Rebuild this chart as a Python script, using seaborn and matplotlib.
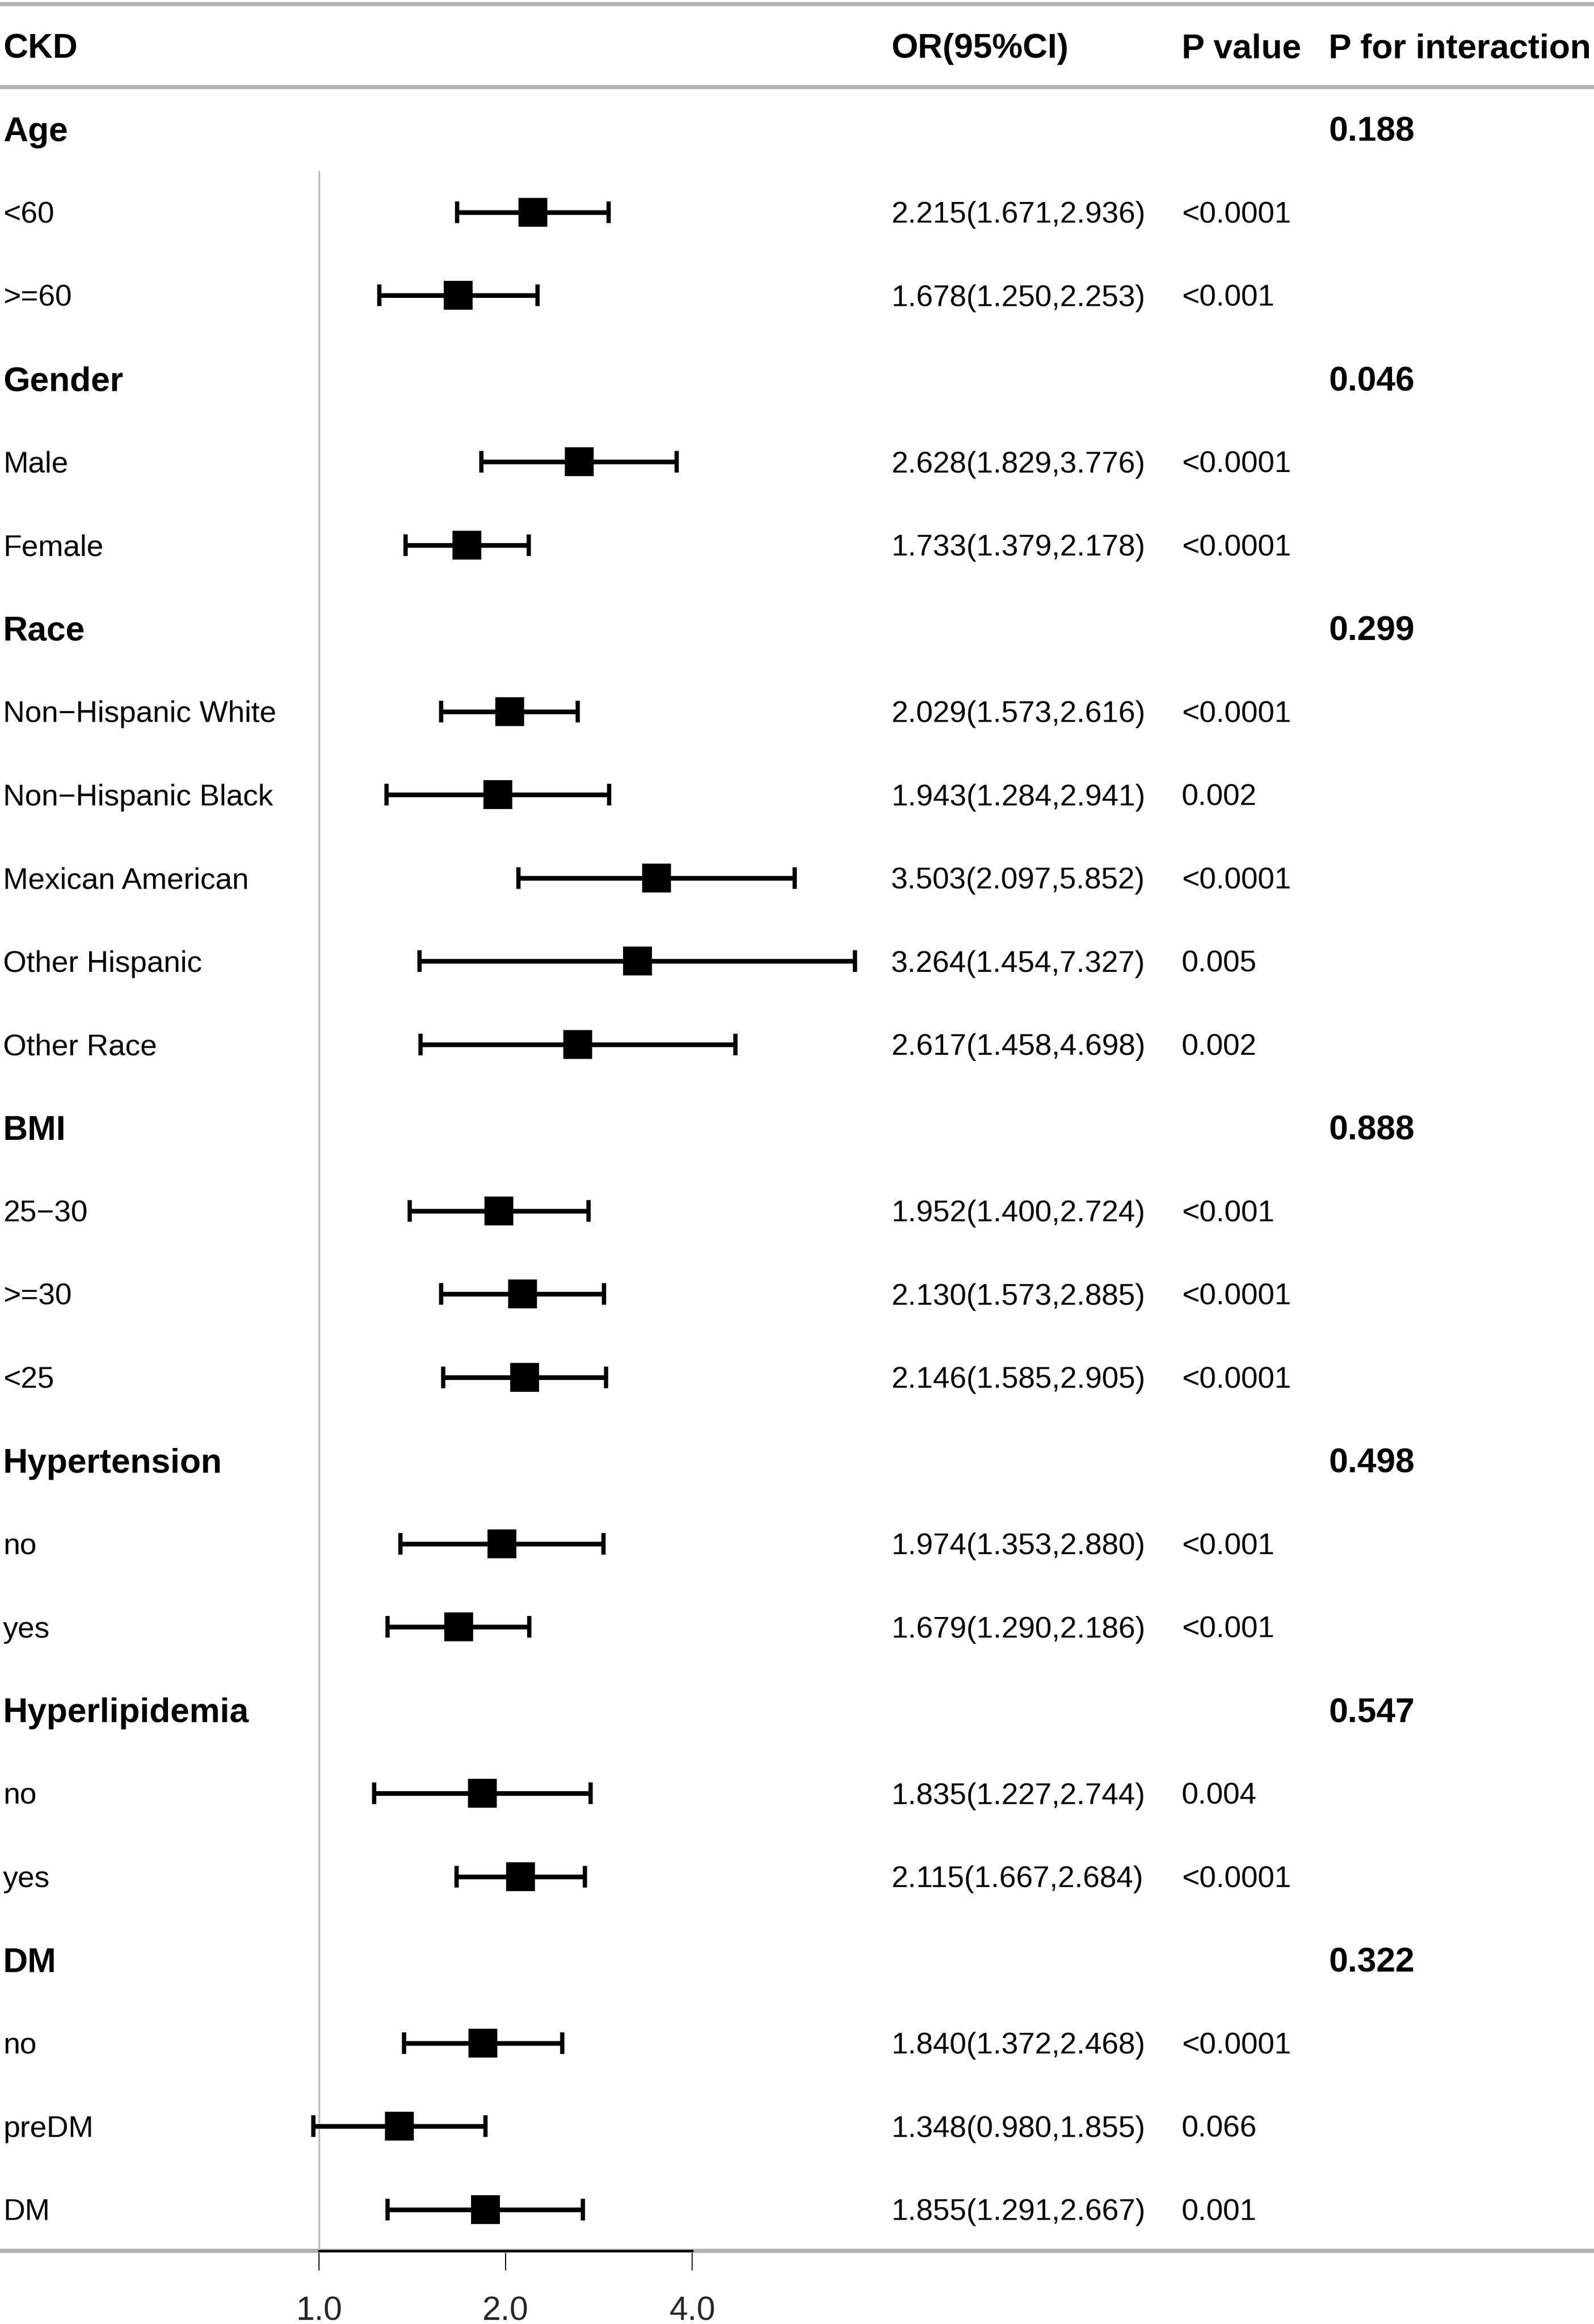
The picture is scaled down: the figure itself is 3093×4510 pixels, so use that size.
import numpy as np
import pandas as pd
import matplotlib
matplotlib.use("Agg")
import matplotlib.pyplot as plt
import matplotlib.transforms as mtransforms
import seaborn as sns

# ---------------- data ----------------
row_labels = ["Age", "<60", ">=60",
              "Gender", "Male", "Female",
              "Race", "Non\u2212Hispanic White", "Non\u2212Hispanic Black",
              "Mexican American", "Other Hispanic", "Other Race",
              "BMI", "25\u221230", ">=30", "<25",
              "Hypertension", "no", "yes",
              "Hyperlipidemia", "no", "yes",
              "DM", "no", "preDM", "DM"]
is_group = [True, False, False,
            True, False, False,
            True, False, False, False, False, False,
            True, False, False, False,
            True, False, False,
            True, False, False,
            True, False, False, False]
or_est = [np.nan, 2.215, 1.678,
          np.nan, 2.628, 1.733,
          np.nan, 2.029, 1.943, 3.503, 3.264, 2.617,
          np.nan, 1.952, 2.130, 2.146,
          np.nan, 1.974, 1.679,
          np.nan, 1.835, 2.115,
          np.nan, 1.840, 1.348, 1.855]
or_low = [np.nan, 1.671, 1.250,
          np.nan, 1.829, 1.379,
          np.nan, 1.573, 1.284, 2.097, 1.454, 1.458,
          np.nan, 1.400, 1.573, 1.585,
          np.nan, 1.353, 1.290,
          np.nan, 1.227, 1.667,
          np.nan, 1.372, 0.980, 1.291]
or_high = [np.nan, 2.936, 2.253,
           np.nan, 3.776, 2.178,
           np.nan, 2.616, 2.941, 5.852, 7.327, 4.698,
           np.nan, 2.724, 2.885, 2.905,
           np.nan, 2.880, 2.186,
           np.nan, 2.744, 2.684,
           np.nan, 2.468, 1.855, 2.667]
p_value = ["", "<0.0001", "<0.001",
           "", "<0.0001", "<0.0001",
           "", "<0.0001", "0.002", "<0.0001", "0.005", "0.002",
           "", "<0.001", "<0.0001", "<0.0001",
           "", "<0.001", "<0.001",
           "", "0.004", "<0.0001",
           "", "<0.0001", "0.066", "0.001"]
p_interaction = ["0.188", "", "",
                 "0.046", "", "",
                 "0.299", "", "", "", "", "",
                 "0.888", "", "", "",
                 "0.498", "", "",
                 "0.547", "", "",
                 "0.322", "", "", ""]
header_labels = ["CKD", "OR(95%CI)", "P value", "P for interaction"]
x_ticks = [1.0, 2.0, 4.0]
x_tick_labels = ["1.0", "2.0", "4.0"]

df = pd.DataFrame({"label": row_labels, "group": is_group, "OR": or_est,
                   "low": or_low, "high": or_high,
                   "p": p_value, "pint": p_interaction})
df["row"] = np.arange(1, len(df) + 1)

# ---------------- layout ----------------
W, H, DPI = 3093, 4510, 300
sns.set_theme(style="white")
plt.rcParams["font.family"] = ["Liberation Sans", "DejaVu Sans"]

fig = plt.figure(figsize=(W / DPI, H / DPI), dpi=DPI)
ax = fig.add_axes([0, 0, 1, 1])
ax.set_facecolor("white")

x_ref_px, px_per_dbl = 619.0, 362.0       # pixel position of OR=1 and pixels per doubling
row0_px, row_px = 88.5, 161.5             # pixel position of header row and row spacing
ax.set_xscale("log", base=2)
ax.set_xlim(2 ** (-x_ref_px / px_per_dbl), 2 ** ((W - x_ref_px) / px_per_dbl))
ax.set_ylim((H - row0_px) / row_px, -row0_px / row_px)

n = len(df)
# horizontal separator lines
for yy in [-0.5, 0.5, n + 0.5]:
    ax.axhline(yy, color="#b3b3b3", lw=1.9, zorder=1)
# reference line at OR = 1
ax.vlines(1.0, 1.5, n + 0.5, color="#bdbdbd", lw=0.8, zorder=1)

sub = df[~df["group"]]
ax.errorbar(sub["OR"], sub["row"],
            xerr=[sub["OR"] - sub["low"], sub["high"] - sub["OR"]],
            fmt="none", ecolor="black", elinewidth=2.2, capsize=5, capthick=2.0,
            zorder=3, clip_on=False)
sns.scatterplot(data=sub, x="OR", y="row", marker="s", s=185, color="black",
                linewidth=0, ax=ax, zorder=4, legend=False, clip_on=False)

# axis
for s in ["left", "right", "top"]:
    ax.spines[s].set_visible(False)
ax.spines["bottom"].set_position(("data", n + 0.5))
ax.spines["bottom"].set_bounds(1.0, 4.0)
ax.spines["bottom"].set_color("black")
ax.spines["bottom"].set_linewidth(1.1)
ax.spines["bottom"].set_zorder(2)
ax.set_xticks(x_ticks)
ax.set_xticklabels(x_tick_labels)
ax.xaxis.set_minor_locator(matplotlib.ticker.NullLocator())
ax.tick_params(axis="x", direction="out", length=9, width=0.5, color="black",
               pad=12, labelsize=15.5, bottom=True)
ax.set_yticks([])
ax.set_xlabel("")
ax.set_ylabel("")
ax.grid(False)

# text columns: baseline shifted so that the cap height is centred on the row
trans = mtransforms.blended_transform_factory(ax.transAxes, ax.transData)
cap = 0.716


def put(x_px, y, txt, size, bold=False):
    off = mtransforms.ScaledTranslation(0, -size * cap / 2 / 72, fig.dpi_scale_trans)
    ax.text(x_px / W, y, txt, transform=trans + off, ha="left", va="baseline",
            fontsize=size, fontweight="bold" if bold else "normal", color="black")


col_px = [6, 1729, 2293, 2578]
for cx, txt in zip(col_px, header_labels):
    put(cx, 0, txt, 16, True)

for _, r in df.iterrows():
    y = r["row"]
    if r["group"]:
        put(col_px[0], y, r["label"], 16, True)
        put(col_px[3], y, r["pint"], 16, True)
    else:
        put(col_px[0], y, r["label"], 14)
        put(col_px[1], y, f"{r['OR']:.3f}({r['low']:.3f},{r['high']:.3f})", 14)
        put(col_px[2], y, r["p"], 14)

fig.savefig("out.png", dpi=DPI, facecolor="white")
